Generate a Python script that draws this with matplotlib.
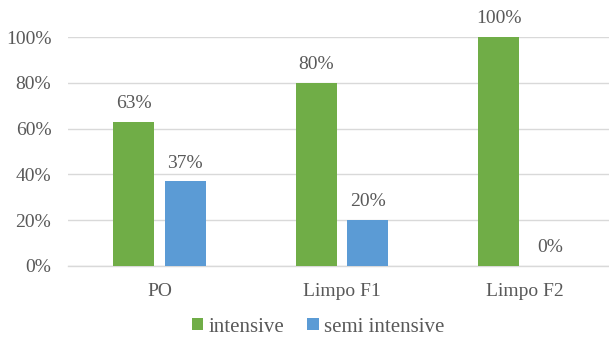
import matplotlib.pyplot as plt
import numpy as np

categories = ["PO", "Limpo F1", "Limpo F2"]
intensive = [63, 80, 100]
semi_intensive = [37, 20, 0]
series_names = ["intensive", "semi intensive"]
y_ticks = [0, 20, 40, 60, 80, 100]

GREEN = "#70AD47"
BLUE = "#5B9BD5"
TEXT = "#595959"
GRID = "#D9D9D9"

plt.rcParams["font.family"] = ["Liberation Serif", "DejaVu Serif"]

fig = plt.figure(figsize=(6.09, 3.38), dpi=100)
W, H = 609, 338
left, right, bottom, top = 68, 609, 266, 37
ax = fig.add_axes([left / W, (H - bottom) / H, (right - left) / W, (bottom - top) / H])

x = np.arange(len(categories))
bw = 0.225
off = 0.142
b1 = ax.bar(x - off, intensive, bw, color=GREEN, label=series_names[0], zorder=3)
b2 = ax.bar(x + off, semi_intensive, bw, color=BLUE, label=series_names[1], zorder=3)

for bars, vals in ((b1, intensive), (b2, semi_intensive)):
    for rect, v in zip(bars, vals):
        ax.annotate(f"{v}%", (rect.get_x() + rect.get_width() / 2, v),
                    xytext=(0, 7), textcoords="offset points",
                    ha="center", va="bottom", fontsize=14, color=TEXT)

ax.set_xlim(-0.501, 2.463)
ax.set_ylim(0, 100)
ax.set_yticks(y_ticks)
ax.set_yticklabels([f"{t}%" for t in y_ticks])
ax.set_xticks(x)
ax.set_xticklabels(categories)
ax.tick_params(axis="both", length=0, labelsize=14, labelcolor=TEXT)
ax.tick_params(axis="y", pad=12)
ax.tick_params(axis="x", pad=12)
ax.yaxis.grid(True, color=GRID, linewidth=1, zorder=0)
for s in ("top", "right", "left"):
    ax.spines[s].set_visible(False)
ax.spines["bottom"].set_color(GRID)
ax.spines["bottom"].set_linewidth(1)

fig.legend(handles=[b1, b2], labels=series_names, loc="center",
           bbox_to_anchor=(318 / W, 1 - 327 / H), ncol=2, frameon=False,
           fontsize=15, labelcolor=TEXT, handlelength=0.55, handleheight=0.55,
           handletextpad=0.25, columnspacing=1.1)

fig.savefig("out.png", dpi=100)
